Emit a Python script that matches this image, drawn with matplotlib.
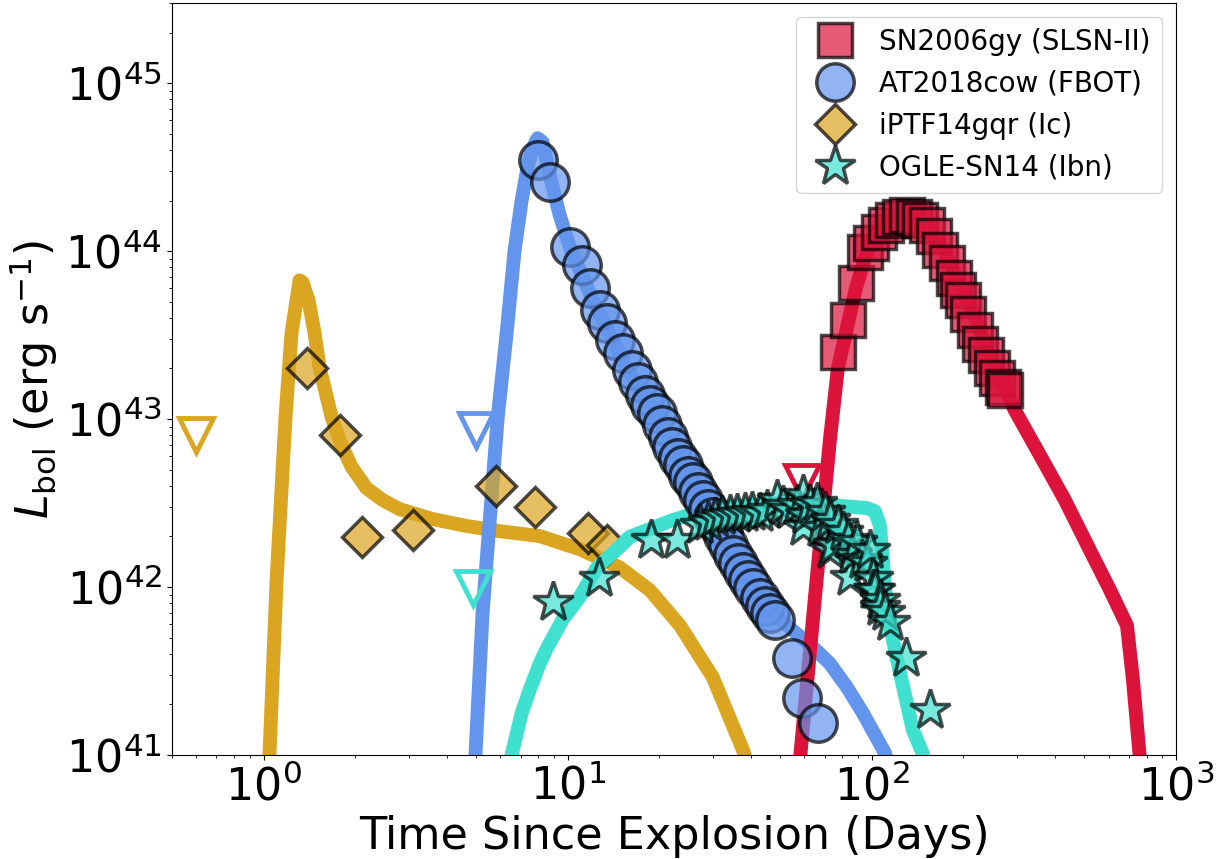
import matplotlib
matplotlib.use("Agg")
import matplotlib.pyplot as plt

# ------------------------------------------------------------
# Dados
# ------------------------------------------------------------
# SN2006gy (SLSN-II)
gy_t = [77.3, 83.4, 88.6, 94.8, 99.3, 105.5, 111.2, 117.3, 123.7, 130.4, 137.4,
        143.8, 151.7, 159.9, 167.4, 176.6, 186.2, 191.9, 199.2, 207.0, 218.2,
        226.5, 237.1, 248.3, 257.8, 270.0, 274.0]
gy_L = [2.5e43, 3.9e43, 6.5e43, 9.9e43, 1.12e44, 1.30e44, 1.43e44, 1.53e44,
        1.59e44, 1.64e44, 1.59e44, 1.53e44, 1.43e44, 1.23e44, 1.01e44, 8.5e43,
        6.9e43, 5.9e43, 5.1e43, 4.2e43, 3.4e43, 2.8e43, 2.4e43, 2.0e43,
        1.75e43, 1.55e43, 1.49e43]
gy_mod_t = [58.0, 64.9, 72.8, 77.3, 88.6, 94.8, 102.0, 111.0, 123.7, 140.0,
            155.0, 175.0, 194.6, 220.0, 244.0, 295.0, 357.0, 431.0, 521.0,
            607.0, 690.0, 722.0, 762.0]
gy_mod_L = [9.3e40, 8.4e41, 7.5e42, 2.0e43, 6.0e43, 9.0e43, 1.24e44, 1.45e44,
            1.62e44, 1.58e44, 1.37e44, 9.5e43, 6.3e43, 3.9e43, 2.4e43, 1.13e43,
            6.1e42, 3.3e42, 1.66e42, 9.6e41, 5.9e41, 2.8e41, 9.3e40]
gy_lim_t, gy_lim_L = [58.9], [4.2e42]

# AT2018cow (FBOT)
cow_t = [7.97, 8.73, 10.16, 11.12, 11.81, 12.74, 13.44, 14.28, 15.17, 16.25,
         17.0, 17.9, 18.6, 19.6, 20.4, 21.3, 22.1, 23.0, 23.9, 24.8, 25.8,
         26.8, 27.8, 28.9, 30.0, 31.1, 32.4, 33.6, 34.9, 36.2, 37.7, 39.1,
         40.6, 42.8, 44.5, 46.2, 48.0, 54.6, 58.9, 66.4]
cow_L = [3.48e44, 2.58e44, 1.06e44, 8.26e43, 6.0e43, 4.46e43, 3.73e43, 2.95e43,
         2.47e43, 1.96e43, 1.66e43, 1.39e43, 1.21e43, 1.09e43, 9.2e42, 7.8e42,
         6.8e42, 5.9e42, 5.3e42, 4.6e42, 4.2e42, 3.7e42, 3.3e42, 2.9e42,
         2.6e42, 2.3e42, 2.0e42, 1.78e42, 1.55e42, 1.39e42, 1.23e42, 1.10e42,
         9.9e41, 8.6e41, 7.7e41, 7.0e41, 6.4e41, 3.8e41, 2.18e41, 1.55e41]
cow_mod_t = [4.91, 5.25, 5.89, 6.30, 6.69, 7.06, 7.38, 7.67, 7.96, 8.27, 8.73,
             9.41, 10.16, 12.1, 15.6, 20.4, 26.8, 34.9, 44.5, 55.0, 63.9, 72.8,
             82.7, 93.4, 110.4, 116.0]
cow_mod_L = [6.2e40, 7e41, 1.03e43, 3.25e43, 1.01e44, 2.01e44, 3.16e44, 4.1e44,
             4.7e44, 4.46e44, 2.83e44, 1.64e44, 1.06e44, 5.1e43, 2.04e43,
             9.2e42, 3.7e42, 1.55e42, 7.7e41, 5.5e41, 4.4e41, 3.5e41, 2.54e41,
             1.78e41, 1.03e41, 7.6e40]
cow_lim_t, cow_lim_L = [5.0], [8.6e42]

# iPTF14gqr (Ic)
gqr_t = [1.395, 1.778, 2.10, 3.09, 5.80, 7.79, 11.7, 13.5]
gqr_L = [2.01e43, 8.0e42, 1.99e42, 2.18e42, 3.99e42, 2.99e42, 2.09e42, 1.78e42]
gqr_mod_t = [1.03, 1.046, 1.104, 1.181, 1.236, 1.284, 1.314, 1.344, 1.406,
             1.472, 1.528, 1.674, 1.805, 1.947, 2.18, 2.46, 2.80, 3.59, 4.65,
             5.98, 8.09, 10.95, 14.8, 18.6, 23.4, 30.0, 37.7, 39.7]
gqr_mod_L = [5e40, 1e41, 1.10e42, 1.03e43, 3.25e43, 5.1e43, 6.7e43, 6.5e43,
             5.1e43, 3.25e43, 2.04e43, 1.03e43, 7.0e42, 5.2e42, 3.88e42, 3.3e42,
             2.91e42, 2.54e42, 2.31e42, 2.15e42, 2.01e42, 1.68e42, 1.31e42,
             9.6e41, 5.9e41, 2.9e41, 1.07e41, 8e40]
gqr_lim_t, gqr_lim_L = [0.6], [8e42]

# OGLE-SN14 (Ibn)
ogle_t = [8.93, 12.7, 18.75, 22.8, 27.2, 28.9, 30.5, 32.1, 34.1, 36.0, 38.2,
          40.3, 42.8, 45.1, 48.7, 51.0, 53.7, 56.7, 59.3, 59.3, 60.2, 62.5,
          65.9, 67.4, 70.0, 72.8, 72.8, 74.4, 77.3, 80.3, 83.4, 84.7, 85.9,
          89.3, 92.7, 96.3, 98.5, 100.7, 100.7, 102.3, 106.2, 106.2, 110.3,
          114.6, 129.4, 155.2]
ogle_L = [8.1e41, 1.13e42, 1.9e42, 1.9e42, 2.34e42, 2.44e42, 2.58e42, 2.65e42,
          2.69e42, 2.72e42, 2.76e42, 2.79e42, 2.76e42, 2.87e42, 3.3e42,
          3.03e42, 2.87e42, 3.07e42, 3.53e42, 2.28e42, 2.69e42, 3.07e42,
          3.16e42, 2.24e42, 2.79e42, 2.5e42, 1.66e42, 1.78e42, 2.34e42,
          2.12e42, 1.9e42, 1.15e42, 1.55e42, 1.85e42, 1.45e42, 1.39e42,
          1.66e42, 1.13e42, 9.6e41, 9.6e41, 8.4e41, 7.6e41, 7.1e41, 6.2e41,
          3.8e41, 1.85e41]
ogle_mod_t = [6.3, 6.54, 7.06, 7.5, 8.09, 8.59, 9.63, 10.95, 11.81, 12.5, 14.8,
              16.0, 18.2, 22.1, 27.0, 34.1, 49.8, 72.8, 96.3, 102.3, 106.2,
              108.7, 112.0, 121.0, 136.4, 147.0, 152.0]
ogle_mod_L = [7e40, 1e41, 1.78e41, 2.44e41, 3.5e41, 4.4e41, 6.4e41, 8.7e41,
              1.10e42, 1.31e42, 1.73e42, 1.99e42, 2.18e42, 2.5e42, 2.8e42,
              3.0e42, 3.16e42, 3.08e42, 2.95e42, 2.83e42, 2.34e42, 1.45e42,
              7.3e41, 3.7e41, 1.41e41, 1.02e41, 8e40]
ogle_lim_t, ogle_lim_L = [4.9], [9.8e41]

GOLD = "goldenrod"
BLUE = "cornflowerblue"
TURQ = "turquoise"
RED = "crimson"

# ============================================================
# Figura
# ============================================================
fig = plt.figure(figsize=(12.17, 8.59), dpi=100)
ax = fig.add_axes([0.1413, 0.1211, 0.825, 0.8754])

lw = 10
pt = dict(linestyle="none", alpha=0.7, markeredgecolor="black", markeredgewidth=2.5)
lim = dict(linestyle="none", marker="v", markersize=24, markerfacecolor="none",
           markeredgewidth=3.5)

# modelos
ax.plot(gqr_mod_t, gqr_mod_L, color=GOLD, lw=lw, zorder=1)
ax.plot(cow_mod_t, cow_mod_L, color=BLUE, lw=lw, zorder=2)
h_gqr, = ax.plot(gqr_t, gqr_L, marker="D", markersize=20, color=GOLD,
                 label="iPTF14gqr (Ic)", zorder=3, **pt)
ax.plot(ogle_mod_t, ogle_mod_L, color=TURQ, lw=lw, zorder=4)
ax.plot(gy_mod_t, gy_mod_L, color=RED, lw=lw, zorder=5)

# limites superiores
ax.plot(gqr_lim_t, gqr_lim_L, color=GOLD, zorder=6, **lim)
ax.plot(cow_lim_t, cow_lim_L, color=BLUE, zorder=6, **lim)
ax.plot(ogle_lim_t, ogle_lim_L, color=TURQ, zorder=6, **lim)
ax.plot(gy_lim_t, gy_lim_L, color=RED, zorder=6, **lim)

# dados
h_gy, = ax.plot(gy_t, gy_L, marker="s", markersize=24, color=RED,
                label="SN2006gy (SLSN-II)", zorder=7, **pt)
h_cow, = ax.plot(cow_t, cow_L, marker="o", markersize=27, color=BLUE,
                 label="AT2018cow (FBOT)", zorder=8, **pt)
h_ogle, = ax.plot(ogle_t, ogle_L, marker="*", markersize=30, color=TURQ,
                  label="OGLE-SN14 (Ibn)", zorder=9, **pt)

ax.set_xscale("log")
ax.set_yscale("log")
ax.set_xlim(0.5, 1000)
ax.set_ylim(1e41, 3e45)

ax.set_xlabel("Time Since Explosion (Days)", fontsize=32)
ax.set_ylabel(r"$L_{\rm bol}$ (erg s$^{-1}$)", fontsize=32)
ax.tick_params(axis="both", which="major", labelsize=32)

ax.legend(handles=[h_gy, h_cow, h_gqr, h_ogle], loc="upper right", fontsize=20,
          handletextpad=0.6, borderpad=0.4)

plt.savefig("out.png", dpi=100)
plt.close()
